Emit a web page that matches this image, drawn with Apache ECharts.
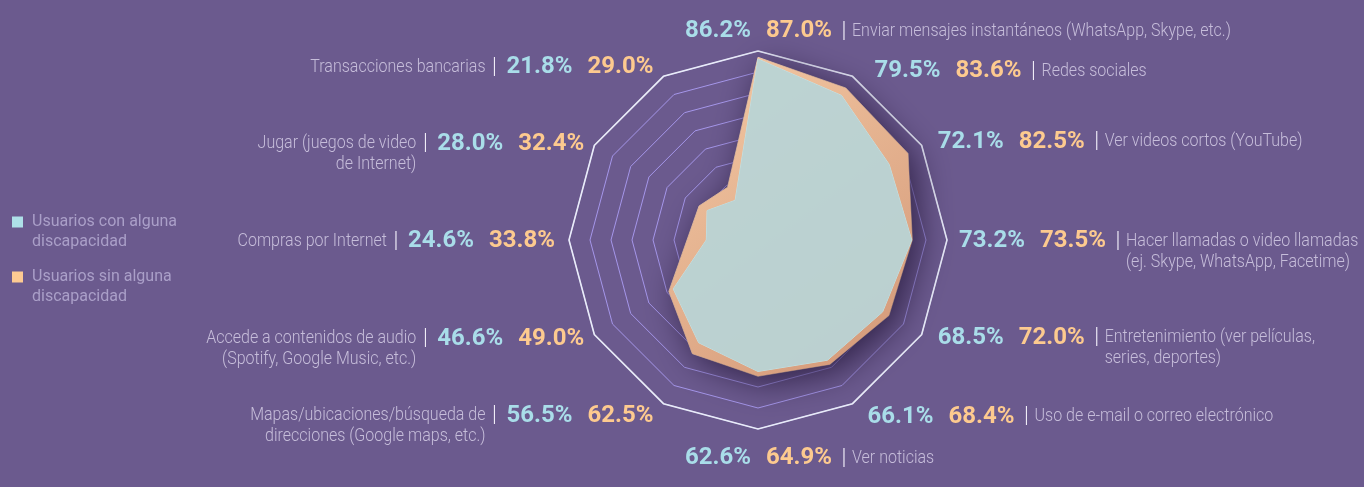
<!DOCTYPE html>
<html>
<head>
<meta charset="utf-8">
<title>Uso de Internet</title>
<script src="https://cdn.jsdelivr.net/npm/echarts@6/dist/echarts.min.js"></script>
<style>
    html, body { margin: 0; padding: 0; background: #6b5a8e; }
    #main { width: 1364px; height: 487px; }
</style>
</head>
<body>
<div id="main"></div>
<script>
// categorias en orden horario desde arriba
var categories = [
    'Enviar mensajes instantáneos (WhatsApp, Skype, etc.)',
    'Redes sociales',
    'Ver videos cortos (YouTube)',
    'Hacer llamadas o video llamadas\n(ej. Skype, WhatsApp, Facetime)',
    'Entretenimiento (ver películas,\nseries, deportes)',
    'Uso de e-mail o correo electrónico',
    'Ver noticias',
    'Mapas/ubicaciones/búsqueda de\ndirecciones (Google maps, etc.)',
    'Accede a contenidos de audio\n(Spotify, Google Music, etc.)',
    'Compras por Internet',
    'Jugar (juegos de video\nde Internet)',
    'Transacciones bancarias'
];
var conDiscapacidad = [86.2, 79.5, 72.1, 73.2, 68.5, 66.1, 62.6, 56.5, 46.6, 24.6, 28.0, 21.8];
var sinDiscapacidad = [87.0, 83.6, 82.5, 73.5, 72.0, 68.4, 64.9, 62.5, 49.0, 33.8, 32.4, 29.0];
var seriesNames = ['Usuarios con alguna discapacidad', 'Usuarios sin alguna discapacidad'];
var legendLabels = ['Usuarios con alguna\ndiscapacidad', 'Usuarios sin alguna\ndiscapacidad'];
var axisMax = 90;

var cx = 758, cy = 240, R = 189;
// pequeño ajuste de cada etiqueta respecto al vértice
var labelNudge = [[0, -20], [22, -5], [16, -4], [12, 1], [16, 3], [15, 13], [0, 29],
                  [-10, 12], [-10, 4], [-14, 1], [-10, -2], [-10, -9]];

var myChart = echarts.init(document.getElementById('main'));

// echarts reparte los indicadores en sentido antihorario
var order = [];
for (var k = 0; k < categories.length; k++) {
    order.push((categories.length - k) % categories.length);
}
function reorder(arr) {
    return order.map(function (i) { return arr[i]; });
}
var indicators = order.map(function (i) {
    return { name: categories[i], min: 0, max: axisMax };
});

var numFont = { fontFamily: 'Roboto', fontWeight: 'bold', fontSize: 24 };
var graphics = [];
for (var i = 0; i < categories.length; i++) {
    var theta = (90 - 30 * i) * Math.PI / 180;
    var cos = Math.cos(theta), sin = Math.sin(theta);
    var ax = cx + R * cos + labelNudge[i][0];
    var ay = cy - R * sin + labelNudge[i][1];
    var cyanTxt = conDiscapacidad[i].toFixed(1) + '%';
    var orangeTxt = sinDiscapacidad[i].toFixed(1) + '%';
    var xs;
    if (cos < -0.01) {
        xs = { cyan: ax - 81, orange: ax, sep: ax - 159, label: ax - 168, align: 'right' };
    } else {
        var start = cos > 0.01 ? ax : ax - 73;
        xs = { cyan: start, orange: start + 81, sep: start + 159, label: start + 167, align: 'left' };
    }
    graphics.push({
        type: 'text', x: xs.cyan, y: ay,
        style: Object.assign({ text: cyanTxt, fill: '#a9dde9', align: xs.align, verticalAlign: 'middle' }, numFont)
    });
    graphics.push({
        type: 'text', x: xs.orange, y: ay,
        style: Object.assign({ text: orangeTxt, fill: '#fdca8f', align: xs.align, verticalAlign: 'middle' }, numFont)
    });
    graphics.push({
        type: 'text', x: xs.sep, y: ay,
        style: { text: '|', fill: '#efecf7', align: 'center', verticalAlign: 'middle',
                 fontFamily: 'Roboto', fontWeight: 300, fontSize: 22 }
    });
    graphics.push({
        type: 'text', x: xs.label, y: ay - 10.5, scaleX: 0.89,
        style: { text: categories[i], fill: '#c6bdda', align: xs.align, verticalAlign: 'top',
                 fontFamily: 'Roboto', fontWeight: 300, fontSize: 18, lineHeight: 21 }
    });
}

var orangeFill = new echarts.graphic.LinearGradient(0, 0, 1, 1, [
    { offset: 0, color: '#f5cba6' },
    { offset: 1, color: '#d29676' }
]);

var option = {
    backgroundColor: '#6b5a8e',
    animation: false,
    legend: {
        orient: 'vertical',
        left: 12,
        top: 192,
        padding: 0,
        itemGap: -5,
        itemWidth: 11,
        itemHeight: 11,
        icon: 'rect',
        data: seriesNames,
        formatter: function (name) {
            // linea vacia arriba para alinear el cuadro con la primera linea
            return '\n' + legendLabels[seriesNames.indexOf(name)];
        },
        itemStyle: { borderWidth: 0 },
        textStyle: {
            color: '#aa9fc8',
            fontFamily: 'Roboto',
            fontSize: 16,
            lineHeight: 20,
            padding: [0, 0, 0, 4]
        }
    },
    radar: [{
        center: [cx, cy],
        radius: R,
        startAngle: 90,
        splitNumber: 9,
        shape: 'polygon',
        indicator: indicators,
        axisName: { show: false },
        axisLine: { show: false },
        axisTick: { show: false },
        axisLabel: { show: false },
        splitArea: { show: false },
        splitLine: { lineStyle: { color: '#a596ea', width: 1 } }
    }, {
        center: [cx, cy],
        radius: R,
        startAngle: 90,
        splitNumber: 1,
        shape: 'polygon',
        indicator: indicators,
        axisName: { show: false },
        axisLine: { show: false },
        axisTick: { show: false },
        axisLabel: { show: false },
        splitArea: { show: false },
        splitLine: { lineStyle: { color: '#e9ecf8', width: 1.6 } }
    }],
    series: [{
        type: 'radar',
        radarIndex: 0,
        symbol: 'none',
        data: [{
            name: seriesNames[1],
            value: reorder(sinDiscapacidad),
            itemStyle: { color: '#fdca92' },
            lineStyle: { color: '#f7d7ba', width: 1 },
            areaStyle: { color: orangeFill, opacity: 1, shadowBlur: 34,
                         shadowColor: 'rgba(38,24,60,0.85)', shadowOffsetX: 7, shadowOffsetY: 7 }
        }, {
            name: seriesNames[0],
            value: reorder(conDiscapacidad),
            itemStyle: { color: '#aee0e8' },
            lineStyle: { color: '#c9e2e3', width: 1 },
            areaStyle: { color: '#b8d4d6', opacity: 0.93 }
        }]
    }],
    graphic: graphics
};
myChart.setOption(option);
</script>
</body>
</html>
